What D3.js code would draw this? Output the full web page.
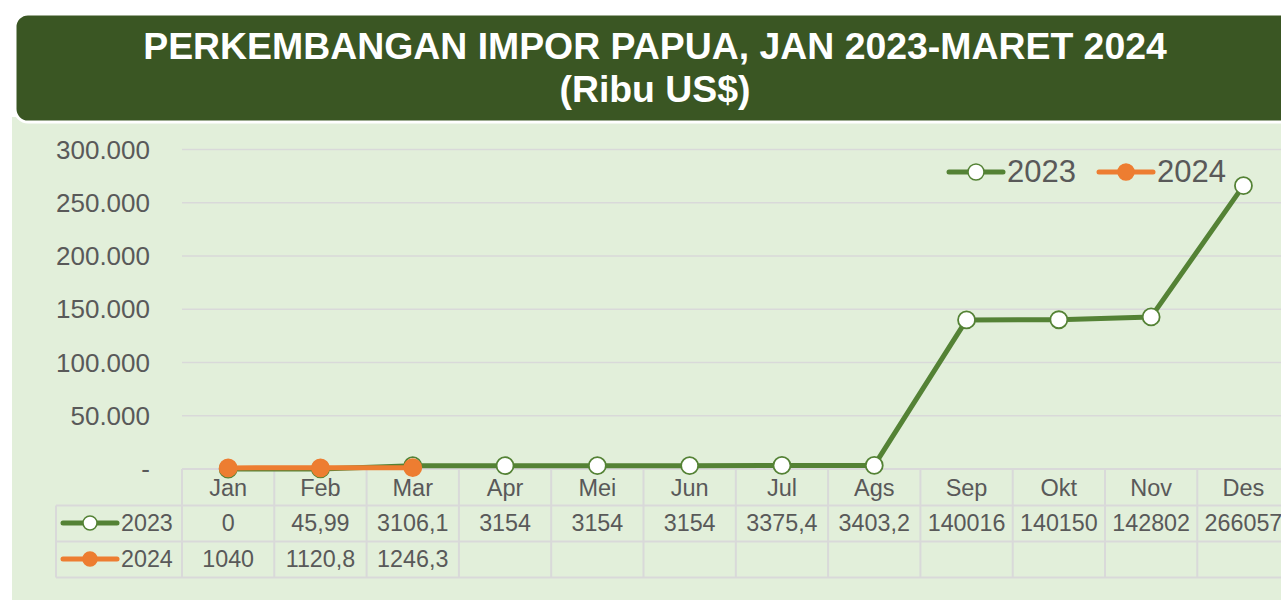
<!DOCTYPE html>
<html>
<head>
<meta charset="utf-8">
<script src="https://cdn.jsdelivr.net/npm/d3@7"></script>
<style>
  body { margin: 0; background: #fff; }
  svg { display: block; font-family: "Liberation Sans", Arial, sans-serif; }
</style>
</head>
<body>
<div id="chart"></div>
<script>
const months = ["Jan", "Feb", "Mar", "Apr", "Mei", "Jun", "Jul", "Ags", "Sep", "Okt", "Nov", "Des"];
const values2023 = [0, 45.99, 3106.1, 3154, 3154, 3154, 3375.4, 3403.2, 140016, 140150, 142802, 266057];
const values2024 = [1040, 1120.8, 1246.3];
const yTicks = [0, 50000, 100000, 150000, 200000, 250000, 300000];
const seriesNames = ["2023", "2024"];

const W = 1281, H = 600;
const green = "#548235", orange = "#ED7D31", textCol = "#595959", gridCol = "#D9D9D9";

const svg = d3.select("#chart").append("svg")
  .attr("width", W).attr("height", H);

// background panel
svg.append("rect")
  .attr("x", 12).attr("y", 117)
  .attr("width", W).attr("height", H)
  .attr("fill", "#E2EFDA");

// title box
svg.append("rect")
  .attr("x", 15).attr("y", 14)
  .attr("width", W + 40).attr("height", 108)
  .attr("rx", 13)
  .attr("fill", "#3A5623")
  .attr("stroke", "#fff")
  .attr("stroke-width", 3);

svg.append("text")
  .attr("x", 655).attr("y", 59)
  .attr("text-anchor", "middle")
  .attr("fill", "#fff")
  .attr("font-weight", "bold")
  .attr("font-size", "37.4px")
  .text("PERKEMBANGAN IMPOR PAPUA, JAN 2023-MARET 2024");
svg.append("text")
  .attr("x", 655).attr("y", 102)
  .attr("text-anchor", "middle")
  .attr("fill", "#fff")
  .attr("font-weight", "bold")
  .attr("font-size", "37.4px")
  .text("(Ribu US$)");

// scales
const x = d3.scaleBand().domain(months).range([182, 182 + 12 * 92.3]);
const y = d3.scaleLinear().domain([0, 300000]).range([469, 149.5]);

const idLocale = d3.formatLocale({ decimal: ",", thousands: ".", grouping: [3], currency: ["", ""] });
const fmtTick = idLocale.format(",");
const fmtCell = v => String(v).replace(".", ",");

// gridlines
svg.append("g")
  .selectAll("line")
  .data(yTicks.filter(d => d > 0))
  .join("line")
  .attr("x1", 182).attr("x2", W)
  .attr("y1", d => y(d)).attr("y2", d => y(d))
  .attr("stroke", gridCol)
  .attr("stroke-width", 1.5);

// y axis labels
svg.append("g")
  .selectAll("text")
  .data(yTicks)
  .join("text")
  .attr("x", 150)
  .attr("y", d => y(d) + 9)
  .attr("text-anchor", "end")
  .attr("fill", textCol)
  .attr("font-size", "26px")
  .text(d => d === 0 ? "-" : fmtTick(d));

// data table
const rowY = [469, 505.5, 541.5, 577.5];
const table = svg.append("g").attr("stroke", gridCol).attr("stroke-width", 2);
table.append("line").attr("x1", 182).attr("x2", W).attr("y1", rowY[0]).attr("y2", rowY[0]);
rowY.slice(1).forEach(yy => {
  table.append("line").attr("x1", 56).attr("x2", W).attr("y1", yy).attr("y2", yy);
});
table.selectAll(".vline")
  .data(months.concat(["end"]))
  .join("line")
  .attr("class", "vline")
  .attr("x1", (d, i) => x.range()[0] + i * x.step())
  .attr("x2", (d, i) => x.range()[0] + i * x.step())
  .attr("y1", rowY[0]).attr("y2", rowY[3]);
table.append("line").attr("x1", 56).attr("x2", 56).attr("y1", rowY[1]).attr("y2", rowY[3]);

// category labels
svg.append("g")
  .selectAll("text")
  .data(months)
  .join("text")
  .attr("x", d => x(d) + x.bandwidth() / 2)
  .attr("y", 496)
  .attr("text-anchor", "middle")
  .attr("fill", textCol)
  .attr("font-size", "23.5px")
  .text(d => d);

// table values
[values2023, values2024].forEach((vals, r) => {
  svg.append("g")
    .selectAll("text")
    .data(vals)
    .join("text")
    .attr("x", (d, i) => x(months[i]) + x.bandwidth() / 2)
    .attr("y", r === 0 ? 531 : 567)
    .attr("text-anchor", "middle")
    .attr("fill", textCol)
    .attr("font-size", "23.3px")
    .text(d => fmtCell(d));
});

function legendKey(g, cx, cy, color, filled, r) {
  g.append("line")
    .attr("x1", cx - 27).attr("x2", cx + 27)
    .attr("y1", cy).attr("y2", cy)
    .attr("stroke", color).attr("stroke-width", 5)
    .attr("stroke-linecap", "round");
  g.append("circle")
    .attr("cx", cx).attr("cy", cy).attr("r", r)
    .attr("fill", filled ? color : "#fff")
    .attr("stroke", color).attr("stroke-width", 1.5);
}

// table row headers
const colors = [green, orange];
seriesNames.forEach((name, r) => {
  const cy = r === 0 ? 523 : 559;
  const g = svg.append("g");
  legendKey(g, 90, cy, colors[r], r === 1, 7);
  g.append("text")
    .attr("x", 121).attr("y", cy + 8)
    .attr("fill", textCol)
    .attr("font-size", "23.3px")
    .text(name);
});

// top legend
[[976, 1007], [1126, 1157]].forEach(([cx, tx], r) => {
  const g = svg.append("g");
  legendKey(g, cx, 172, colors[r], r === 1, 8);
  g.append("text")
    .attr("x", tx).attr("y", 182)
    .attr("fill", textCol)
    .attr("font-size", "31px")
    .text(seriesNames[r]);
});

// lines
const line = d3.line()
  .x((d, i) => x(months[i]) + x.bandwidth() / 2)
  .y(d => y(d));

[values2023, values2024].forEach((vals, r) => {
  svg.append("path")
    .datum(vals)
    .attr("d", line)
    .attr("fill", "none")
    .attr("stroke", colors[r])
    .attr("stroke-width", 5)
    .attr("stroke-linejoin", "round");
  svg.append("g")
    .selectAll("circle")
    .data(vals)
    .join("circle")
    .attr("cx", (d, i) => x(months[i]) + x.bandwidth() / 2)
    .attr("cy", d => y(d))
    .attr("r", 8.5)
    .attr("fill", r === 1 ? colors[r] : "#fff")
    .attr("stroke", colors[r])
    .attr("stroke-width", 1.8);
});
</script>
</body>
</html>
